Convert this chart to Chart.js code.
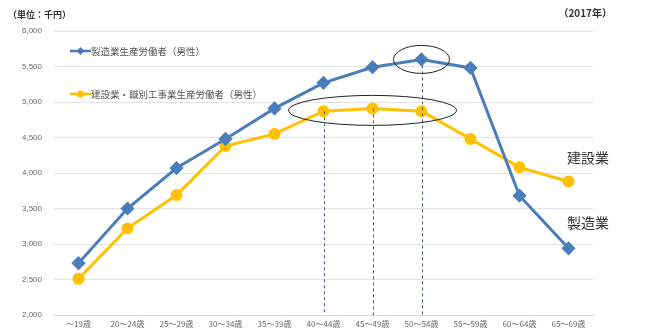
<!DOCTYPE html>
<html><head><meta charset="utf-8">
<script src="https://cdn.jsdelivr.net/npm/chart.js@4.4.1/dist/chart.umd.min.js"></script>
<style>html,body{margin:0;padding:0;background:#fff}#wrap{width:646px;height:334px}</style>
</head><body><div id="wrap"><canvas id="c" width="646" height="334"></canvas></div>
<script>
const categories = ['～19歳','20～24歳','25～29歳','30～34歳','35～39歳','40～44歳','45～49歳','50～54歳','55～59歳','60～64歳','65～69歳'];
const manufacturing = [2730,3500,4070,4480,4910,5270,5490,5600,5480,3680,2940];
const construction = [2510,3220,3690,4380,4550,4870,4910,4870,4480,4080,3880];
const seriesLabels = ['製造業生産労働者（男性）','建設業・職別工事業生産労働者（男性）'];
const yTicks = [2000,2500,3000,3500,4000,4500,5000,5500,6000];
const unitLabel = '（単位：千円）';
const yearLabel = '（2017年）';
const endLabels = ['製造業','建設業'];

const BLUE = '#4a7ebb', YELLOW = '#ffc000';
const JP = '"Noto Sans CJK JP", "Noto Sans", sans-serif';

const annot = {
  id: 'annot',
  afterDatasetsDraw(chart) {
    const ctx = chart.ctx, x = chart.scales.x, y = chart.scales.y;
    const ca = chart.chartArea;
    ctx.save();
    ctx.strokeStyle = '#4a5a8a'; ctx.lineWidth = 1; ctx.setLineDash([3,3]);
    [[5, construction[5]],[6, construction[6]],[7, manufacturing[7]]].forEach(([i,v])=>{
      const px = Math.round(x.getPixelForValue(i))+0.5;
      ctx.beginPath(); ctx.moveTo(px, y.getPixelForValue(v)); ctx.lineTo(px, ca.bottom); ctx.stroke();
    });
    ctx.setLineDash([]);
    ctx.strokeStyle = '#222'; ctx.lineWidth = 1;
    const cx1 = x.getPixelForValue(7), cy1 = y.getPixelForValue(manufacturing[7]);
    ctx.beginPath(); ctx.ellipse(cx1, cy1, 28, 14, 0, 0, Math.PI*2); ctx.stroke();
    const cx2 = x.getPixelForValue(6), cy2 = y.getPixelForValue(construction[6]) + 2;
    ctx.beginPath(); ctx.ellipse(cx2, cy2, 84, 15, 0, 0, Math.PI*2); ctx.stroke();
    ctx.fillStyle = '#333'; ctx.font = '14px ' + JP; ctx.textBaseline = 'middle'; ctx.textAlign = 'left';
    ctx.fillText(endLabels[1], 567, 158);
    ctx.fillText(endLabels[0], 567, 223);
    ctx.font = 'bold 9px ' + JP; ctx.fillStyle = '#333';
    ctx.fillText(unitLabel, 8, 15);
    ctx.font = 'bold 10px ' + JP; ctx.textAlign = 'right';
    ctx.fillText(yearLabel, 612, 13);
    const items = [[seriesLabels[0], BLUE, 'rectRot', 51],[seriesLabels[1], YELLOW, 'circle', 94]];
    items.forEach(([t,c,s,ly])=>{
      ctx.strokeStyle = c; ctx.lineWidth = 2.5;
      ctx.beginPath(); ctx.moveTo(70, ly); ctx.lineTo(91, ly); ctx.stroke();
      ctx.fillStyle = c;
      ctx.beginPath();
      if (s==='circle') { ctx.arc(80.5, ly, 3.5, 0, Math.PI*2); }
      else { ctx.moveTo(80.5, ly-4); ctx.lineTo(84.5, ly); ctx.lineTo(80.5, ly+4); ctx.lineTo(76.5, ly); ctx.closePath(); }
      ctx.fill();
      ctx.fillStyle = '#555'; ctx.font = '9.5px ' + JP; ctx.textAlign = 'left';
      ctx.fillText(t, 91, ly);
    });
    ctx.restore();
  }
};

new Chart(document.getElementById('c'), {
  type: 'line',
  data: {
    labels: categories,
    datasets: [
      { label: seriesLabels[0], data: manufacturing, borderColor: BLUE, backgroundColor: BLUE,
        borderWidth: 3, pointStyle: 'rectRot', pointRadius: 5, pointHoverRadius: 5, tension: 0 },
      { label: seriesLabels[1], data: construction, borderColor: YELLOW, backgroundColor: YELLOW,
        borderWidth: 3, pointStyle: 'circle', pointRadius: 4.5, pointHoverRadius: 4.5, tension: 0 }
    ]
  },
  options: {
    responsive: false, animation: false, devicePixelRatio: 1,
    layout: { padding: { left: 0, right: 53, top: 31, bottom: 0 } },
    plugins: { legend: { display: false }, tooltip: { enabled: false } },
    scales: {
      x: {
        offset: true,
        grid: { display: false, drawTicks: false, offset: true },
        border: { color: '#d9d9d9' },
        ticks: { color: '#666', font: { size: 8, family: JP }, padding: 4, maxRotation: 0, autoSkip: false },
        afterFit(s) { s.height = 19; }
      },
      y: {
        min: 2000, max: 6000,
        afterBuildTicks(s) { s.ticks = yTicks.map(v => ({ value: v })); },
        grid: { color: '#e3e3e3', drawTicks: false },
        border: { display: false },
        ticks: { color: '#666', font: { size: 8, family: '"Liberation Sans", sans-serif' }, padding: 12,
          callback: v => v.toLocaleString('en-US') },
        afterFit(s) { s.width = 54; }
      }
    }
  },
  plugins: [annot]
});
</script></body></html>
